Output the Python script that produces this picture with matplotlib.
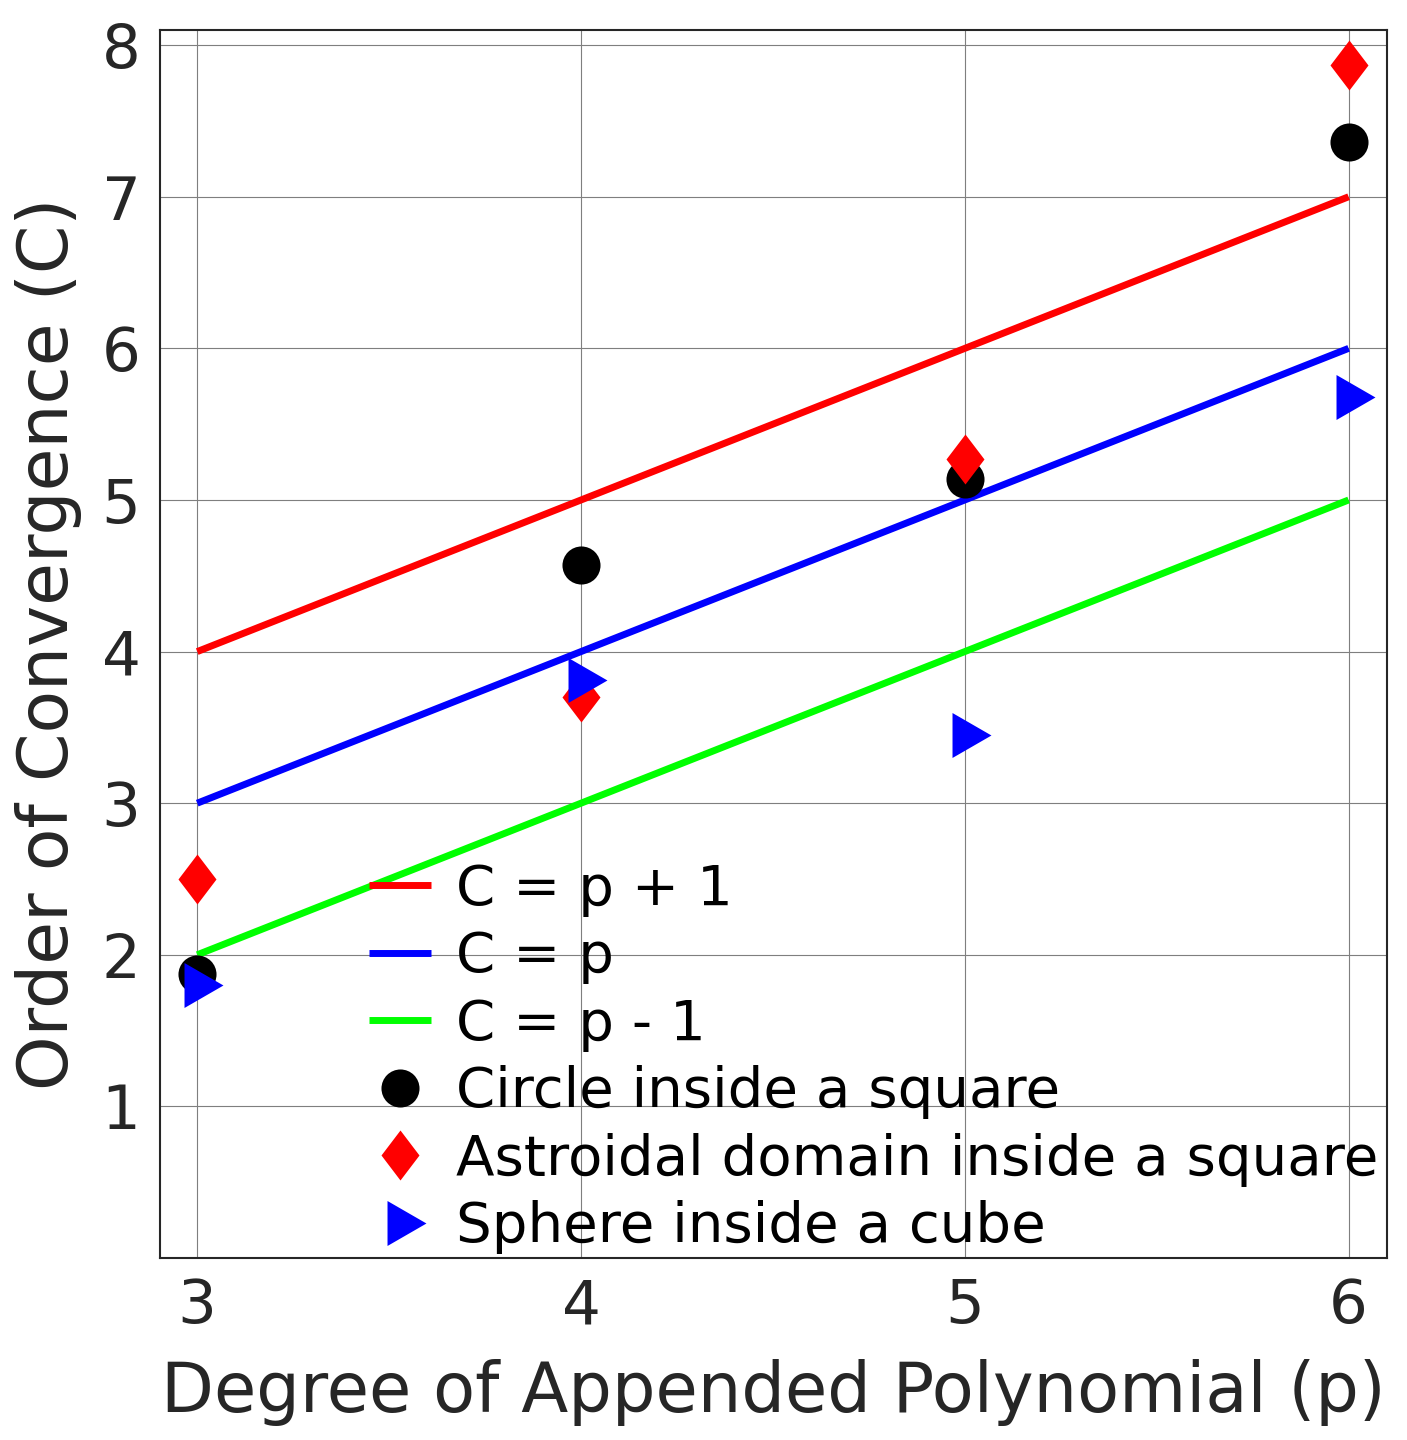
import numpy as np
import matplotlib
matplotlib.use('Agg')
import matplotlib.pyplot as plt

p = [3, 4, 5, 6]
circle = [1.87, 4.57, 5.14, 7.36]
astroid = [2.50, 3.70, 5.27, 7.87]
sphere = [1.80, 3.81, 3.45, 5.68]
yticks = [1, 2, 3, 4, 5, 6, 7, 8]

# marker outlines (taller diamond, triangle centred on its centroid)
diamond = [(0, 25), (19, 0), (0, -25), (-19, 0), (0, 25)]
triangle = [(-13, 22.5), (26, 0), (-13, -22.5), (-13, 22.5)]

plt.rcParams['font.family'] = 'DejaVu Sans'
fig = plt.figure(figsize=(14.07, 14.4), dpi=100)
ax = fig.add_axes([160/1407, 1-1258/1440, 1227/1407, 1228/1440])

pp = np.array(p)
ax.plot(pp, pp + 1, color='#ff0000', lw=5, solid_capstyle='butt', label='C = p + 1')
ax.plot(pp, pp, color='#0000ff', lw=5, solid_capstyle='butt', label='C = p')
ax.plot(pp, pp - 1, color='#00ff00', lw=5, solid_capstyle='butt', label='C = p - 1')
ax.plot(p, circle, 'o', color='k', ms=27.4, markeredgewidth=0,
        label='Circle inside a square')
ax.plot(p, astroid, marker=diamond, ls='none', color='#ff0000', ms=36,
        markeredgewidth=0, label='Astroidal domain inside a square')
ax.plot(p, sphere, marker=triangle, ls='none', color='#0000ff', ms=37.4,
        markeredgewidth=0, label='Sphere inside a cube')

ax.set_xlim(2.903, 6.1)
ax.set_ylim(0, 8.1)
ax.set_xticks(p)
ax.set_yticks(yticks)
ax.grid(True, color='#7f7f7f', lw=0.8)
ax.set_axisbelow(True)
ax.tick_params(length=0, labelsize=44, labelcolor='#262626', pad=14)
for s in ax.spines.values():
    s.set_color('#262626')
    s.set_linewidth(1.5)

ax.set_xlabel('Degree of Appended Polynomial (p)', fontsize=49.5, color='#262626', labelpad=16)
ax.set_ylabel('Order of Convergence (C)', fontsize=50, color='#262626', labelpad=14)

ax.legend(loc='lower right', bbox_to_anchor=(1.0, -0.004), frameon=False,
          fontsize=40.5, borderaxespad=0.05, handlelength=1.1,
          handletextpad=0.45, labelspacing=0.24, borderpad=0.1)

plt.savefig('out.png', dpi=100)
